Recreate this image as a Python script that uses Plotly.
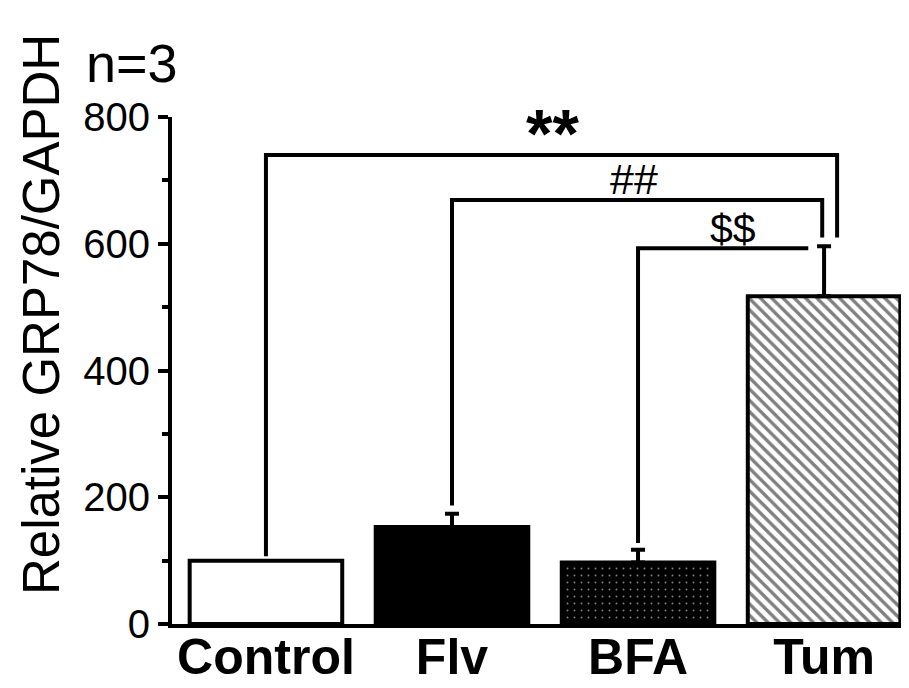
import plotly.graph_objects as go

# ---- data ----
categories = ["Control", "Flv", "BFA", "Tum"]
values = [100, 153, 97, 517]
errors_up = [0, 21, 20, 79]

# significance brackets (left group index, right end position, level, drops)
sig_labels = ["**", "##", "$$"]
sig_left = [0, 1, 2]
sig_right = [3.07, 2.99, 2.915]
sig_level = [740, 669, 593]
sig_left_bottom = [107, 187, 128]
sig_right_bottom = [610, 610, 593]
sig_text_x = [1.54, 1.98, 2.51]

y_ticks = [0, 200, 400, 600, 800]

FONT = "Arial, Liberation Sans, sans-serif"

# per-bar fill styles
bar_bg = ["white", "black", "black", "white"]
bar_fg = ["black", "black", "white", "black"]
bar_shape = ["", "", ".", "\\"]
bar_psize = [8, 8, 7, 8]
bar_solid = [0.3, 0.3, 0.06, 0.42]

fig = go.Figure()

for i, cat in enumerate(categories):
    pattern = dict(shape=bar_shape[i], bgcolor=bar_bg[i], fgcolor=bar_fg[i],
                   size=bar_psize[i], solidity=bar_solid[i], fillmode="overlay")
    fig.add_trace(go.Bar(
        x=[i], y=[values[i]], width=0.82, name=cat,
        marker=dict(color=bar_bg[i], line=dict(color="black", width=4),
                    pattern=pattern),
        error_y=dict(type="data", symmetric=False, array=[errors_up[i]],
                     arrayminus=[0], color="black", thickness=4, width=7,
                     visible=errors_up[i] > 0),
        showlegend=False,
    ))

for i in range(len(sig_labels)):
    fig.add_trace(go.Scatter(
        x=[sig_left[i], sig_left[i], sig_right[i], sig_right[i]],
        y=[sig_left_bottom[i], sig_level[i], sig_level[i], sig_right_bottom[i]],
        mode="lines",
        line=dict(color="black", width=4),
        showlegend=False, hoverinfo="skip",
    ))

fig.add_annotation(x=sig_text_x[0], y=sig_level[0], text="<b>**</b>", showarrow=False,
                   yanchor="bottom", yshift=-18, font=dict(family=FONT, size=68, color="black"))
fig.add_annotation(x=sig_text_x[1], y=sig_level[1], text="##", showarrow=False,
                   yanchor="bottom", yshift=-5, font=dict(family=FONT, size=43, color="black"))
fig.add_annotation(x=sig_text_x[2], y=sig_level[2], text="$$", showarrow=False,
                   yanchor="bottom", yshift=-6, font=dict(family=FONT, size=41, color="black"))

fig.add_annotation(xref="paper", yref="paper", x=-0.179, y=0.611,
                   text="Relative GRP78/GAPDH", textangle=-90, showarrow=False,
                   xanchor="center", yanchor="middle",
                   font=dict(family=FONT, size=51, color="black"))
fig.add_annotation(xref="paper", yref="paper", x=-0.0546, y=1.107,
                   text="n=3", showarrow=False, xanchor="center", yanchor="middle",
                   font=dict(family=FONT, size=54, color="black"))

# the page body adds an 8 px margin, so the figure is sized/offset to compensate
fig.update_layout(
    width=901, height=680, autosize=False,
    margin=dict(l=164, r=4, t=109, b=64),
    paper_bgcolor="white", plot_bgcolor="white",
    font=dict(family=FONT, color="black"),
    barmode="overlay",
)
fig.update_xaxes(
    range=[-0.505, 3.435], automargin=False,
    tickvals=list(range(len(categories))), ticktext=categories,
    tickfont=dict(family=FONT, size=50, weight="bold", color="black"),
    ticklabelstandoff=-14,
    showline=True, linecolor="black", linewidth=4,
    ticks="", showgrid=False, zeroline=False,
)
fig.update_yaxes(
    range=[0, 800], automargin=False,
    tickvals=y_ticks,
    tickfont=dict(family=FONT, size=40, color="black"),
    showline=True, linecolor="black", linewidth=4,
    ticks="outside", ticklen=10, tickwidth=4, tickcolor="black",
    minor=dict(dtick=100, ticks="outside", ticklen=6, tickwidth=4, tickcolor="black"),
    showgrid=False, zeroline=False,
)

fig.write_html("out.html")
